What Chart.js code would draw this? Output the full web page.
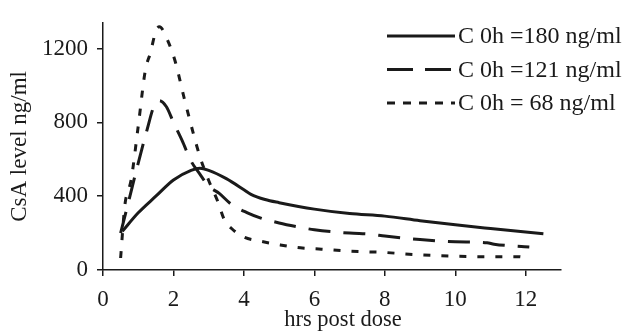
<!DOCTYPE html>
<html>
<head>
<meta charset="utf-8">
<script src="https://cdn.jsdelivr.net/npm/chart.js@4/dist/chart.umd.min.js"></script>
<style>
  html, body { margin: 0; padding: 0; background: #fff; }
  #wrap { width: 623px; height: 332px; position: relative; }
</style>
</head>
<body>
<div id="wrap"><canvas id="chart"></canvas></div>
<script>
// values (hours post dose, CsA ng/ml)
const seriesLabels = ['C 0h =180 ng/ml', 'C 0h =121 ng/ml', 'C 0h = 68 ng/ml'];

const hours180 = [0.55, 1.0, 1.5, 2.0, 2.5, 2.75, 3.0, 3.5, 4.0, 4.2, 4.6, 5.0, 6.0, 7.0, 8.0, 9.0, 10.0, 11.0, 12.5];
const level180 = [210, 310, 400, 488, 540, 552, 540, 495, 435, 410, 382, 365, 330, 306, 292, 267, 245, 225, 196];

const hours121 = [0.5, 0.75, 1.0, 1.25, 1.45, 1.6, 1.8, 2.0, 2.25, 2.5, 2.75, 3.0, 3.3, 3.65, 4.1, 4.5, 5.0, 5.5, 6.0, 7.0, 7.6, 8.0, 9.0, 10.0, 10.9, 11.1, 12.1];
const level121 = [200, 390, 580, 760, 890, 918, 885, 800, 700, 590, 520, 455, 415, 355, 310, 280, 255, 235, 218, 200, 194, 184, 165, 153, 148, 140, 125];

const hours68 = [0.5, 0.62, 0.8, 1.0, 1.2, 1.35, 1.5, 1.6, 1.85, 2.05, 2.3, 2.55, 2.75, 3.0, 3.25, 3.45, 3.65, 4.0, 4.5, 5.0, 5.6, 6.2, 7.0, 8.0, 8.8, 10.0, 11.0, 11.8, 12.05];
const level68 = [65, 350, 490, 780, 1080, 1180, 1295, 1318, 1238, 1130, 935, 750, 615, 485, 375, 270, 225, 178, 155, 137, 120, 113, 102, 95, 84, 75, 72, 72, 62];

const xTicks = [0, 2, 4, 6, 8, 10, 12];
const yTicks = [0, 400, 800, 1200];

const toPoints = (xs, ys) => xs.map((x, i) => ({ x, y: ys[i] }));

const ink = '#1a1a1a';
const serif = '"Liberation Serif", "DejaVu Serif", serif';

// plot dashes and legend dashes differ a little in the original
const plotDash = [[], [22, 13], [7, 11]];
const legendDash = [[], [26, 12], [8, 8]];

const customLegend = {
  id: 'customLegend',
  afterDraw(chart) {
    const ctx = chart.ctx;
    ctx.save();
    chart.data.datasets.forEach((ds, i) => {
      const y = 36 + i * 33.5;
      ctx.strokeStyle = ink;
      ctx.lineWidth = 3;
      ctx.setLineDash(legendDash[i]);
      ctx.beginPath();
      ctx.moveTo(387, y);
      ctx.lineTo(455, y);
      ctx.stroke();
      ctx.setLineDash([]);
      ctx.fillStyle = ink;
      ctx.font = '24px ' + serif;
      ctx.textBaseline = 'middle';
      ctx.textAlign = 'left';
      ctx.fillText(ds.label, 458, y + 1);
    });
    // x axis title sits a bit right of the axis centre in the original
    ctx.font = '22.5px ' + serif;
    ctx.textAlign = 'center';
    ctx.textBaseline = 'alphabetic';
    ctx.fillText('hrs post dose', 343, 326);
    ctx.restore();
  }
};

const makeSet = (i, xs, ys) => ({
  label: seriesLabels[i],
  data: toPoints(xs, ys),
  borderColor: ink,
  borderWidth: 3,
  borderDash: plotDash[i],
  pointRadius: 0,
  fill: false,
  cubicInterpolationMode: 'monotone'
});

new Chart(document.getElementById('chart'), {
  type: 'line',
  data: {
    datasets: [
      makeSet(0, hours180, level180),
      makeSet(1, hours121, level121),
      makeSet(2, hours68, level68)
    ]
  },
  options: {
    responsive: true,
    maintainAspectRatio: false,
    animation: false,
    layout: { padding: { top: 11, right: 62, left: 0, bottom: 0 } },
    plugins: { legend: { display: false }, tooltip: { enabled: false } },
    scales: {
      x: {
        type: 'linear',
        min: 0,
        max: 13,
        afterBuildTicks: s => { s.ticks = xTicks.map(v => ({ value: v })); },
        afterFit: s => { s.height = 62; },
        border: { display: true, color: ink, width: 1.5 },
        grid: { display: true, drawOnChartArea: false, drawTicks: true, tickLength: 6, color: ink, lineWidth: 1.5 },
        ticks: { color: ink, font: { family: serif, size: 23 }, padding: 10, maxRotation: 0, callback: v => String(v) }
      },
      y: {
        type: 'linear',
        min: 0,
        max: 1340,
        afterBuildTicks: s => { s.ticks = yTicks.map(v => ({ value: v })); },
        afterFit: s => { s.width = 103; },
        border: { display: true, color: ink, width: 1.5 },
        grid: { display: true, drawOnChartArea: false, drawTicks: true, tickLength: 6, color: ink, lineWidth: 1.5 },
        ticks: { color: ink, font: { family: serif, size: 23 }, padding: 9, callback: v => String(v) },
        title: { display: true, text: 'CsA level ng/ml', color: ink, font: { family: serif, size: 23 }, padding: { top: 6, bottom: 0 } }
      }
    }
  },
  plugins: [customLegend]
});
</script>
</body>
</html>
